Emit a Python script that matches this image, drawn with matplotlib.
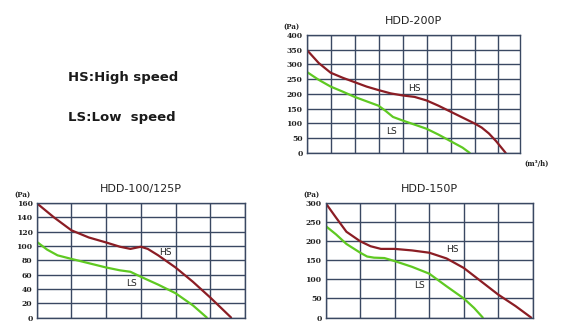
import matplotlib
matplotlib.use('Agg')
import matplotlib.pyplot as plt

# HDD-200P (x in grid columns, y in Pa)
hs200_x = [0, 0.5, 1, 1.5, 2, 2.5, 3, 3.5, 4, 4.5, 5, 5.5, 6, 6.5, 7, 7.3, 7.6, 7.9, 8.1, 8.3]
hs200_y = [350, 305, 272, 255, 240, 225, 213, 202, 195, 190, 178, 160, 140, 120, 100, 86, 66, 40, 20, 0]
ls200_x = [0, 0.5, 1, 1.5, 2, 2.5, 3, 3.3, 3.6, 4, 4.5, 5, 5.5, 6, 6.5, 6.8]
ls200_y = [275, 248, 225, 208, 190, 175, 160, 142, 122, 110, 96, 82, 62, 40, 18, 0]

# HDD-100/125P
hs100_x = [0, 0.5, 1, 1.5, 2, 2.4, 2.7, 3, 3.2, 3.5, 4, 4.5, 5, 5.3, 5.6]
hs100_y = [160, 140, 122, 112, 105, 99, 96, 99, 96, 87, 70, 50, 28, 14, 0]
ls100_x = [0, 0.3, 0.6, 1, 1.5, 2, 2.4, 2.7, 3, 3.5, 4, 4.5, 4.9]
ls100_y = [106, 95, 87, 82, 76, 70, 66, 64, 57, 46, 34, 17, 0]

# HDD-150P
hs150_x = [0, 0.3, 0.6, 1, 1.3, 1.6, 2, 2.5, 3, 3.5, 4, 4.5, 5, 5.5, 5.95]
hs150_y = [300, 262, 225, 200, 187, 180, 180, 176, 170, 155, 130, 95, 60, 30, 0]
ls150_x = [0, 0.3, 0.6, 1, 1.2, 1.4, 1.7, 2, 2.5, 3, 3.5, 4, 4.3, 4.55]
ls150_y = [240, 218, 193, 170, 160, 157, 156, 148, 133, 115, 82, 50, 25, 0]

hs_color = '#8b1d24'
ls_color = '#5fc922'
grid_color = '#3a4862'

fig = plt.figure(figsize=(5.69, 3.24), dpi=100)


def draw_panel(rect, title, hx, hy, lx, ly, xmax, yticks, hs_pos, ls_pos):
    ax = fig.add_axes(rect)
    ax.plot(hx, hy, color=hs_color, linewidth=1.6, solid_capstyle='round')
    ax.plot(lx, ly, color=ls_color, linewidth=1.6, solid_capstyle='round')
    ax.set_xlim(0, xmax)
    ax.set_ylim(0, yticks[-1])
    ax.set_xticks(range(0, int(xmax) + 1))
    ax.set_yticks(yticks)
    ax.set_xticklabels([])
    ax.set_yticklabels([str(v) for v in yticks], family='DejaVu Serif',
                       fontsize=5.5, fontweight='bold', color='#222222')
    ax.tick_params(length=0, pad=3)
    ax.grid(True, color=grid_color, linewidth=1.0)
    for s in ax.spines.values():
        s.set_color(grid_color)
        s.set_linewidth(1.0)
    ax.set_title(title, fontsize=8, color='#222222', pad=8)
    ax.text(hs_pos[0], hs_pos[1], 'HS', fontsize=6.5, color='#222222',
            ha='center', va='center')
    ax.text(ls_pos[0], ls_pos[1], 'LS', fontsize=6.5, color='#222222',
            ha='center', va='center')
    ax.text(-0.07, 1.07, '(Pa)', transform=ax.transAxes, family='DejaVu Serif',
            fontsize=5, fontweight='bold', color='#222222', ha='center', va='center')
    return ax


ax1 = draw_panel([0.539, 0.528, 0.375, 0.364], 'HDD-200P',
                 hs200_x, hs200_y, ls200_x, ls200_y, 8.9,
                 [0, 50, 100, 150, 200, 250, 300, 350, 400], (4.5, 218), (3.55, 74))
ax1.text(1.075, -0.09, '(m³/h)', transform=ax1.transAxes, family='DejaVu Serif',
         fontsize=5, fontweight='bold', color='#222222', ha='center', va='center')

draw_panel([0.0645, 0.02, 0.366, 0.353], 'HDD-100/125P',
           hs100_x, hs100_y, ls100_x, ls100_y, 6,
           [0, 20, 40, 60, 80, 100, 120, 140, 160], (3.72, 91), (2.74, 48))

draw_panel([0.5724, 0.02, 0.364, 0.353], 'HDD-150P',
           hs150_x, hs150_y, ls150_x, ls150_y, 6,
           [0, 50, 100, 150, 200, 250, 300], (3.68, 178), (2.72, 85))

fig.text(68 / 569, 1 - 78 / 324, 'HS:High speed', fontsize=9.5, fontweight='bold',
         color='#1a1a1a', ha='left', va='center')
fig.text(68 / 569, 1 - 117 / 324, 'LS:Low  speed', fontsize=9.5, fontweight='bold',
         color='#1a1a1a', ha='left', va='center')

fig.savefig('out.png', dpi=100)
